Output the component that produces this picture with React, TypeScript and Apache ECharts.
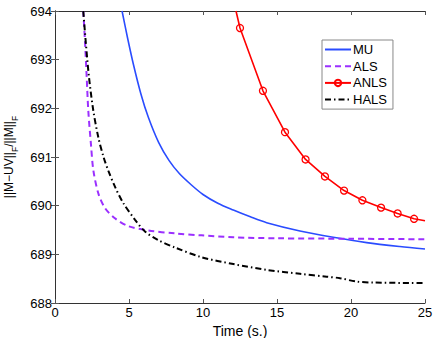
import React, { useEffect, useRef } from "react";
import * as echarts from "echarts";

const xTicks = { min: 0, max: 25, interval: 5 };
const yTicks = { min: 688, max: 694, interval: 1 };

const muX = [4.53, 4.9, 5.3, 5.8, 6.3, 7.0, 7.7, 8.4, 9.2, 10.0, 11.0, 12.05, 13.2, 14.3, 16.55, 18.8, 21.06, 23.3, 25.0];
const muY = [694, 693.45, 692.9, 692.3, 691.82, 691.3, 690.93, 690.66, 690.43, 690.23, 690.05, 689.91, 689.77, 689.65, 689.48, 689.35, 689.24, 689.16, 689.11];

const alsX = [1.91, 2.03, 2.14, 2.25, 2.43, 2.59, 2.93, 3.38, 4.05, 4.95, 6.3, 8.11, 9.9, 12.05, 15.0, 20.0, 25.0];
const alsY = [694, 693.35, 692.65, 691.95, 691.26, 690.73, 690.25, 689.95, 689.74, 689.58, 689.49, 689.43, 689.39, 689.35, 689.33, 689.32, 689.31];

const anlsX = [12.23, 12.5, 14.05, 15.54, 16.93, 18.24, 19.53, 20.77, 22.03, 23.15, 24.26, 25.0];
const anlsY = [694, 693.65, 692.36, 691.51, 690.95, 690.6, 690.31, 690.11, 689.96, 689.84, 689.73, 689.69];
const anlsMarked = [false, true, true, true, true, true, true, true, true, true, true, false];

const halsX = [1.91, 2.09, 2.3, 2.59, 2.93, 3.3, 3.6, 4.05, 4.62, 5.41, 6.08, 6.98, 8.11, 9.91, 12.05, 14.3, 16.55, 18.36, 19.26, 20.38, 21.5, 25.0];
const halsY = [694, 693.32, 692.63, 691.95, 691.4, 690.98, 690.72, 690.39, 690.05, 689.71, 689.47, 689.29, 689.14, 688.94, 688.8, 688.68, 688.6, 688.54, 688.51, 688.44, 688.42, 688.41];

const seriesNames = ["MU", "ALS", "ANLS", "HALS"];

const FONT = "'Liberation Sans', Arial, sans-serif";

function pairs(xs: number[], ys: number[]) {
  return xs.map((x, i) => [x, ys[i]]);
}

export default function App() {
  const ref = useRef<HTMLDivElement>(null);
  useEffect(() => {
    if (!ref.current) return;
    const chart = echarts.init(ref.current, null, { renderer: "svg" });
    const axisLineStyle = { color: "#333", width: 1 };
    const tickStyle = { show: true, inside: true, length: 4, lineStyle: { color: "#555" } };
    const labelStyle = { color: "#000", fontSize: 13, fontFamily: FONT };
    chart.setOption({
      animation: false,
      backgroundColor: "#fff",
      grid: { left: 55, right: 11, top: 11, bottom: 35, containLabel: false, outerBoundsMode: "none" },
      legend: {
        orient: "vertical",
        left: 322,
        top: 40,
        data: seriesNames.map((n) =>
          n === "ANLS" ? { name: n } : { name: n, itemStyle: { opacity: 0 } }
        ),
        itemWidth: 26,
        itemHeight: 8,
        itemGap: 3.7,
        padding: [3, 6, 3, 2],
        borderColor: "#888",
        borderWidth: 1,
        backgroundColor: "#fff",
        textStyle: { color: "#000", fontSize: 13, fontFamily: FONT, padding: [0, 0, 0, -3] },
      },
      xAxis: [
        {
          type: "value",
          position: "bottom",
          ...xTicks,
          name: "Time (s.)",
          nameLocation: "middle",
          nameGap: 10,
          nameTextStyle: { color: "#000", fontSize: 14, fontFamily: FONT },
          axisLine: { show: true, lineStyle: axisLineStyle },
          axisTick: tickStyle,
          axisLabel: { ...labelStyle, margin: 3 },
          splitLine: { show: false },
        },
        {
          type: "value",
          position: "top",
          ...xTicks,
          axisLine: { show: true, lineStyle: axisLineStyle },
          axisTick: tickStyle,
          axisLabel: { show: false },
          splitLine: { show: false },
        },
      ],
      yAxis: [
        {
          type: "value",
          position: "left",
          ...yTicks,
          name: "||M−UV||{s|F}/||M||{s|F}",
          nameLocation: "middle",
          nameGap: 34,
          nameTextStyle: {
            color: "#000",
            fontSize: 12,
            fontFamily: FONT,
            lineHeight: 21,
            rich: {
              s: { fontSize: 8.5, lineHeight: 10, verticalAlign: "bottom", color: "#000", fontFamily: FONT },
            },
          },
          axisLine: { show: true, lineStyle: axisLineStyle },
          axisTick: tickStyle,
          axisLabel: { ...labelStyle, margin: 3 },
          splitLine: { show: false },
        },
        {
          type: "value",
          position: "right",
          ...yTicks,
          axisLine: { show: true, lineStyle: axisLineStyle },
          axisTick: tickStyle,
          axisLabel: { show: false },
          splitLine: { show: false },
        },
      ],
      series: [
        {
          name: "MU",
          type: "line",
          data: pairs(muX, muY),
          smooth: 0.3,
          symbol: "none",
          color: "#2a4cff",
          lineStyle: { color: "#2a4cff", width: 1.6 },
        },
        {
          name: "ALS",
          type: "line",
          data: pairs(alsX, alsY),
          smooth: 0.3,
          symbol: "none",
          color: "#9b30ff",
          lineStyle: { color: "#9b30ff", width: 2, type: [6, 4] },
        },
        {
          name: "ANLS",
          type: "line",
          data: anlsX.map((x, i) =>
            anlsMarked[i] ? { value: [x, anlsY[i]] } : { value: [x, anlsY[i]], symbol: "none" }
          ),
          symbol: "circle",
          symbolSize: 7,
          color: "#ff0000",
          itemStyle: { color: "rgba(255,255,255,0)", borderColor: "#ff0000", borderWidth: 1.3 },
          lineStyle: { color: "#ff0000", width: 1.6 },
        },
        {
          name: "HALS",
          type: "line",
          data: pairs(halsX, halsY),
          smooth: 0.3,
          symbol: "none",
          color: "#000",
          lineStyle: { color: "#000", width: 2, type: [6, 3, 1.5, 3] },
        },
      ],
    });
    return () => chart.dispose();
  }, []);
  return <div ref={ref} style={{ width: 436, height: 338, position: "absolute", left: 0, top: 0 }} />;
}
